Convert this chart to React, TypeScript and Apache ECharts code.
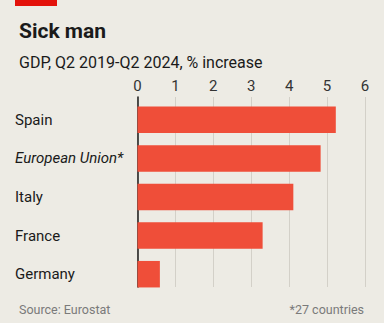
import React, { useEffect, useRef } from "react";
import * as echarts from "echarts";

const categories = ["Spain", "European Union*", "Italy", "France", "Germany"];
const values = [5.23, 4.83, 4.11, 3.3, 0.59];
const tickValues = [0, 1, 2, 3, 4, 5, 6];

const BG = "#EDEBE4";
const BAR = "#EF4E39";
const FONT = "Roboto, 'Noto Sans', sans-serif";

export default function App() {
  const ref = useRef<HTMLDivElement>(null);
  useEffect(() => {
    if (!ref.current) return;
    const chart = echarts.init(ref.current, null, { renderer: "svg" });
    const left = 137.5;
    const right = 384 - 365;
    chart.setOption({
      animation: false,
      backgroundColor: BG,
      textStyle: { fontFamily: FONT },
      title: [
        {
          text: "Sick man",
          left: 14,
          top: 15,
          textStyle: { fontFamily: FONT, fontSize: 21, fontWeight: "bold", color: "#1a1a1a" },
        },
        {
          text: "GDP, Q2 2019-Q2 2024, % increase",
          left: 14,
          top: 49,
          textStyle: { fontFamily: FONT, fontSize: 16, fontWeight: "normal", color: "#1a1a1a" },
        },
        {
          text: "Source: Eurostat",
          left: 14,
          top: 298,
          textStyle: { fontFamily: FONT, fontSize: 12.5, fontWeight: "normal", color: "#7a7a7a" },
        },
        {
          text: "*27 countries",
          right: 15,
          top: 298,
          textStyle: { fontFamily: FONT, fontSize: 12.5, fontWeight: "normal", color: "#7a7a7a" },
        },
      ],
      graphic: [
        { type: "rect", shape: { x: 15, y: 0, width: 42, height: 6 }, style: { fill: "#E3120B" } },
      ],
      grid: [
        { left, right, top: 97, height: 190 },
        { left, right, top: 100.5, height: 193 },
      ],
      xAxis: [
        {
          gridIndex: 0,
          type: "value",
          position: "top",
          min: 0,
          max: 6,
          interval: 1,
          axisLine: { show: false },
          axisTick: { show: false },
          axisLabel: {
            margin: 4,
            fontSize: 15,
            color: "#333333",
            fontFamily: FONT,
            formatter: (v: number) => (tickValues.includes(v) ? String(v) : ""),
          },
          splitLine: { show: true, lineStyle: { color: "#D3D0C8", width: 1 } },
        },
        {
          gridIndex: 1,
          type: "value",
          min: 0,
          max: 6,
          interval: 1,
          show: false,
        },
      ],
      yAxis: [
        {
          gridIndex: 0,
          type: "value",
          min: 0,
          max: 1,
          axisLine: { show: true, onZero: false, lineStyle: { color: "#1a1a1a", width: 1.5 } },
          axisTick: { show: false },
          axisLabel: { show: false },
          splitLine: { show: false },
        },
        {
          gridIndex: 1,
          type: "category",
          data: categories,
          inverse: true,
          axisLine: { show: false },
          axisTick: { show: false },
          axisLabel: {
            align: "left",
            margin: left - 15,
            fontSize: 15,
            color: "#1a1a1a",
            fontFamily: FONT,
            formatter: (v: string) => (v === "European Union*" ? `{i|${v}}` : v),
            rich: { i: { fontStyle: "italic", fontSize: 15, color: "#1a1a1a", fontFamily: FONT } },
          },
        },
      ],
      series: [
        {
          type: "bar",
          xAxisIndex: 1,
          yAxisIndex: 1,
          data: values,
          barWidth: 26.5,
          itemStyle: { color: BAR },
          z: 3,
        },
      ],
    });
    return () => chart.dispose();
  }, []);
  return (
    <div
      ref={ref}
      style={{ position: "fixed", left: 0, top: 0, width: 384, height: 323, background: BG }}
    />
  );
}
